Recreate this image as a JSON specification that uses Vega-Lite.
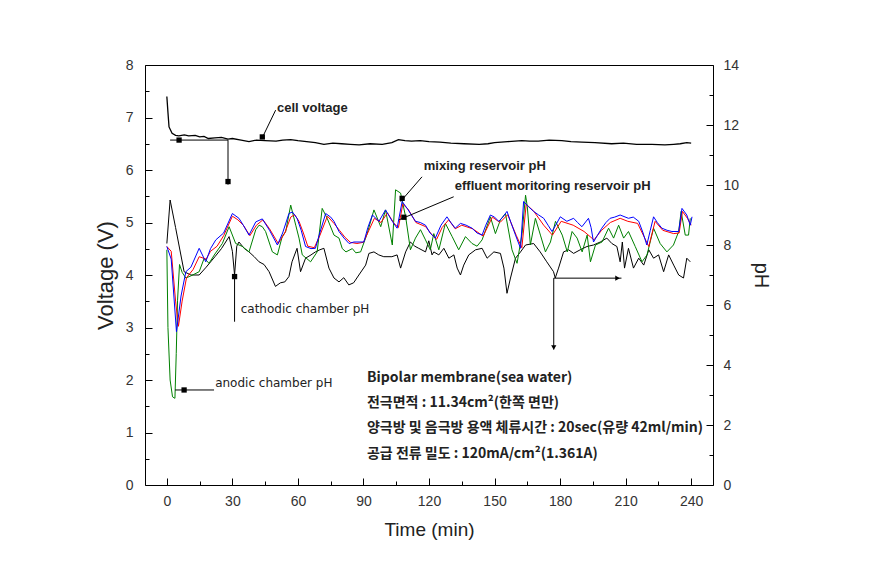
{
  "$schema": "https://vega.github.io/schema/vega-lite/v6.json",
  "width": 568,
  "height": 420,
  "autosize": {"type": "none"},
  "padding": {"left": 145, "top": 65, "right": 163, "bottom": 78},
  "background": "white",
  "config": {
    "view": {"stroke": "black", "strokeWidth": 1},
    "axis": {
      "domainColor": "black", "tickColor": "black", "domainWidth": 1, "tickWidth": 1,
      "labelFont": "Liberation Sans", "labelFontSize": 14, "labelColor": "#333333",
      "titleFont": "Liberation Sans", "titleFontWeight": "normal", "titleColor": "#222222", "grid": false
    }
  },
  "datasets": {
    "cell": [
      {"time": 0, "V": 7.4}, {"time": 0.5, "V": 7.1}, {"time": 1, "V": 6.82}, {"time": 2.4, "V": 6.7},
      {"time": 4, "V": 6.66}, {"time": 5.5, "V": 6.65}, {"time": 8, "V": 6.67}, {"time": 10, "V": 6.65},
      {"time": 13, "V": 6.66}, {"time": 15, "V": 6.63}, {"time": 17, "V": 6.64}, {"time": 19, "V": 6.6},
      {"time": 22, "V": 6.61}, {"time": 25, "V": 6.62}, {"time": 28, "V": 6.59}, {"time": 30, "V": 6.6},
      {"time": 34, "V": 6.57}, {"time": 37.6, "V": 6.54}, {"time": 41, "V": 6.57}, {"time": 45, "V": 6.56},
      {"time": 50, "V": 6.55}, {"time": 53, "V": 6.57}, {"time": 56.7, "V": 6.58}, {"time": 60, "V": 6.56},
      {"time": 64, "V": 6.54}, {"time": 68, "V": 6.52}, {"time": 71.9, "V": 6.49}, {"time": 76, "V": 6.51},
      {"time": 80, "V": 6.5}, {"time": 84, "V": 6.49}, {"time": 88, "V": 6.48}, {"time": 93, "V": 6.5},
      {"time": 98.6, "V": 6.49}, {"time": 103, "V": 6.52}, {"time": 106, "V": 6.58}, {"time": 109, "V": 6.56},
      {"time": 112, "V": 6.55}, {"time": 116, "V": 6.56}, {"time": 120, "V": 6.54}, {"time": 125, "V": 6.53},
      {"time": 130, "V": 6.51}, {"time": 136, "V": 6.5}, {"time": 143, "V": 6.49}, {"time": 147, "V": 6.5},
      {"time": 150, "V": 6.52}, {"time": 156, "V": 6.54}, {"time": 162.5, "V": 6.56}, {"time": 166, "V": 6.55},
      {"time": 170, "V": 6.55}, {"time": 175, "V": 6.57}, {"time": 180.8, "V": 6.56}, {"time": 185, "V": 6.54},
      {"time": 190, "V": 6.53}, {"time": 196, "V": 6.52}, {"time": 203.6, "V": 6.5}, {"time": 209, "V": 6.51},
      {"time": 215, "V": 6.49}, {"time": 222, "V": 6.49}, {"time": 228, "V": 6.48}, {"time": 232, "V": 6.49},
      {"time": 235, "V": 6.5}, {"time": 238, "V": 6.52}, {"time": 240, "V": 6.51}
    ],
    "ph": [
      {"series": "cathodic", "time": 0, "pH": 8.05}, {"series": "cathodic", "time": 1.5, "pH": 9.5},
      {"series": "cathodic", "time": 4, "pH": 8.58}, {"series": "cathodic", "time": 7.9, "pH": 7.11},
      {"series": "cathodic", "time": 11, "pH": 7.0}, {"series": "cathodic", "time": 14.8, "pH": 7.0},
      {"series": "cathodic", "time": 18, "pH": 7.26}, {"series": "cathodic", "time": 22, "pH": 7.61},
      {"series": "cathodic", "time": 25, "pH": 7.88}, {"series": "cathodic", "time": 28.5, "pH": 8.28},
      {"series": "cathodic", "time": 30, "pH": 7.79}, {"series": "cathodic", "time": 31, "pH": 7.0},
      {"series": "cathodic", "time": 32, "pH": 7.96}, {"series": "cathodic", "time": 33, "pH": 8.1},
      {"series": "cathodic", "time": 35.5, "pH": 7.88}, {"series": "cathodic", "time": 37.6, "pH": 7.77},
      {"series": "cathodic", "time": 40, "pH": 7.61}, {"series": "cathodic", "time": 42.2, "pH": 7.44},
      {"series": "cathodic", "time": 44.5, "pH": 7.35}, {"series": "cathodic", "time": 46.8, "pH": 7.11},
      {"series": "cathodic", "time": 49.7, "pH": 6.62}, {"series": "cathodic", "time": 52, "pH": 6.74},
      {"series": "cathodic", "time": 54, "pH": 6.77}, {"series": "cathodic", "time": 55.9, "pH": 6.95},
      {"series": "cathodic", "time": 57.3, "pH": 7.44}, {"series": "cathodic", "time": 59.6, "pH": 7.89},
      {"series": "cathodic", "time": 61.2, "pH": 7.11}, {"series": "cathodic", "time": 63.5, "pH": 7.56},
      {"series": "cathodic", "time": 66, "pH": 7.67}, {"series": "cathodic", "time": 68, "pH": 7.77},
      {"series": "cathodic", "time": 70, "pH": 7.84}, {"series": "cathodic", "time": 71.9, "pH": 7.89},
      {"series": "cathodic", "time": 74.2, "pH": 7.23}, {"series": "cathodic", "time": 76.5, "pH": 6.9},
      {"series": "cathodic", "time": 78.8, "pH": 6.77}, {"series": "cathodic", "time": 81, "pH": 6.91},
      {"series": "cathodic", "time": 83.3, "pH": 6.67}, {"series": "cathodic", "time": 85.5, "pH": 6.74},
      {"series": "cathodic", "time": 87.9, "pH": 7.0}, {"series": "cathodic", "time": 91, "pH": 7.33},
      {"series": "cathodic", "time": 92.5, "pH": 7.72}, {"series": "cathodic", "time": 94.8, "pH": 7.77},
      {"series": "cathodic", "time": 97, "pH": 7.67}, {"series": "cathodic", "time": 99.3, "pH": 7.61},
      {"series": "cathodic", "time": 103, "pH": 7.61}, {"series": "cathodic", "time": 105.4, "pH": 7.67},
      {"series": "cathodic", "time": 107, "pH": 7.23}, {"series": "cathodic", "time": 109.3, "pH": 7.77},
      {"series": "cathodic", "time": 111.5, "pH": 8.1}, {"series": "cathodic", "time": 113.5, "pH": 7.96},
      {"series": "cathodic", "time": 115.3, "pH": 7.89}, {"series": "cathodic", "time": 118.4, "pH": 7.77},
      {"series": "cathodic", "time": 119.9, "pH": 8.14}, {"series": "cathodic", "time": 121.4, "pH": 7.67},
      {"series": "cathodic", "time": 122.2, "pH": 7.77}, {"series": "cathodic", "time": 124.5, "pH": 7.67},
      {"series": "cathodic", "time": 126.8, "pH": 7.89}, {"series": "cathodic", "time": 129.1, "pH": 7.56},
      {"series": "cathodic", "time": 131.4, "pH": 7.67}, {"series": "cathodic", "time": 132.9, "pH": 7.23},
      {"series": "cathodic", "time": 134.4, "pH": 7.0}, {"series": "cathodic", "time": 135.9, "pH": 7.33},
      {"series": "cathodic", "time": 138.2, "pH": 7.67}, {"series": "cathodic", "time": 141.3, "pH": 7.84},
      {"series": "cathodic", "time": 144.3, "pH": 7.89}, {"series": "cathodic", "time": 146.6, "pH": 7.56},
      {"series": "cathodic", "time": 149.7, "pH": 7.77}, {"series": "cathodic", "time": 152.7, "pH": 7.72},
      {"series": "cathodic", "time": 154.3, "pH": 7.23}, {"series": "cathodic", "time": 155.7, "pH": 6.39},
      {"series": "cathodic", "time": 157.3, "pH": 6.9}, {"series": "cathodic", "time": 159.6, "pH": 7.56},
      {"series": "cathodic", "time": 161.9, "pH": 7.77}, {"series": "cathodic", "time": 164.2, "pH": 8.0},
      {"series": "cathodic", "time": 167.9, "pH": 8.05}, {"series": "cathodic", "time": 170.9, "pH": 7.77},
      {"series": "cathodic", "time": 173.9, "pH": 7.44}, {"series": "cathodic", "time": 177, "pH": 7.11},
      {"series": "cathodic", "time": 177.8, "pH": 6.9}, {"series": "cathodic", "time": 179.3, "pH": 7.23},
      {"series": "cathodic", "time": 181.6, "pH": 7.77}, {"series": "cathodic", "time": 183.9, "pH": 7.84},
      {"series": "cathodic", "time": 186.2, "pH": 7.72}, {"series": "cathodic", "time": 189.2, "pH": 7.84},
      {"series": "cathodic", "time": 192.3, "pH": 7.95}, {"series": "cathodic", "time": 195.3, "pH": 8.0},
      {"series": "cathodic", "time": 198.4, "pH": 8.1}, {"series": "cathodic", "time": 201.4, "pH": 8.23},
      {"series": "cathodic", "time": 203.7, "pH": 8.05}, {"series": "cathodic", "time": 206, "pH": 7.95},
      {"series": "cathodic", "time": 207.5, "pH": 7.44}, {"series": "cathodic", "time": 208.5, "pH": 8.1},
      {"series": "cathodic", "time": 209.5, "pH": 7.23}, {"series": "cathodic", "time": 211.3, "pH": 7.89},
      {"series": "cathodic", "time": 213.6, "pH": 7.23}, {"series": "cathodic", "time": 216, "pH": 7.56},
      {"series": "cathodic", "time": 218.3, "pH": 7.33}, {"series": "cathodic", "time": 220.6, "pH": 7.84},
      {"series": "cathodic", "time": 222.8, "pH": 7.56}, {"series": "cathodic", "time": 225.1, "pH": 7.67},
      {"series": "cathodic", "time": 227.4, "pH": 7.11}, {"series": "cathodic", "time": 229.7, "pH": 7.67},
      {"series": "cathodic", "time": 232, "pH": 7.33}, {"series": "cathodic", "time": 234.3, "pH": 7.0},
      {"series": "cathodic", "time": 236.5, "pH": 6.9}, {"series": "cathodic", "time": 238, "pH": 7.56},
      {"series": "cathodic", "time": 239.6, "pH": 7.44},

      {"series": "anodic", "time": 0, "pH": 7.84}, {"series": "anodic", "time": 0.5, "pH": 5.25},
      {"series": "anodic", "time": 1.5, "pH": 3.5}, {"series": "anodic", "time": 2.6, "pH": 2.94},
      {"series": "anodic", "time": 3.7, "pH": 2.89}, {"series": "anodic", "time": 4.3, "pH": 4.38},
      {"series": "anodic", "time": 4.9, "pH": 6.16}, {"series": "anodic", "time": 5.8, "pH": 7.35},
      {"series": "anodic", "time": 7, "pH": 7.09}, {"series": "anodic", "time": 8.7, "pH": 6.9},
      {"series": "anodic", "time": 11, "pH": 6.97}, {"series": "anodic", "time": 14.8, "pH": 7.11},
      {"series": "anodic", "time": 17.1, "pH": 7.56}, {"series": "anodic", "time": 19.3, "pH": 7.39},
      {"series": "anodic", "time": 22, "pH": 7.7}, {"series": "anodic", "time": 25.4, "pH": 8.05},
      {"series": "anodic", "time": 28.5, "pH": 8.61}, {"series": "anodic", "time": 31.5, "pH": 8.05},
      {"series": "anodic", "time": 34.6, "pH": 7.95}, {"series": "anodic", "time": 37.6, "pH": 7.77},
      {"series": "anodic", "time": 40.7, "pH": 8.51}, {"series": "anodic", "time": 42.2, "pH": 8.66},
      {"series": "anodic", "time": 43.7, "pH": 8.61}, {"series": "anodic", "time": 45.2, "pH": 8.45},
      {"series": "anodic", "time": 48.3, "pH": 7.77}, {"series": "anodic", "time": 50.6, "pH": 7.67},
      {"series": "anodic", "time": 52.8, "pH": 8.28}, {"series": "anodic", "time": 54.4, "pH": 8.45},
      {"series": "anodic", "time": 56.7, "pH": 9.33}, {"series": "anodic", "time": 59, "pH": 8.66},
      {"series": "anodic", "time": 60.5, "pH": 8.23}, {"series": "anodic", "time": 62, "pH": 7.67},
      {"series": "anodic", "time": 65.8, "pH": 7.44}, {"series": "anodic", "time": 68.8, "pH": 7.77},
      {"series": "anodic", "time": 71.1, "pH": 9.22}, {"series": "anodic", "time": 73.4, "pH": 8.89},
      {"series": "anodic", "time": 76.5, "pH": 8.33}, {"series": "anodic", "time": 78.8, "pH": 8.23},
      {"series": "anodic", "time": 80.3, "pH": 7.88}, {"series": "anodic", "time": 82, "pH": 7.77},
      {"series": "anodic", "time": 84.9, "pH": 7.88}, {"series": "anodic", "time": 86.5, "pH": 7.74},
      {"series": "anodic", "time": 88.7, "pH": 7.77}, {"series": "anodic", "time": 91.7, "pH": 8.38},
      {"series": "anodic", "time": 94.8, "pH": 9.17}, {"series": "anodic", "time": 97.9, "pH": 8.61},
      {"series": "anodic", "time": 100.1, "pH": 9.17}, {"series": "anodic", "time": 103.2, "pH": 8.0},
      {"series": "anodic", "time": 104.7, "pH": 9.84}, {"series": "anodic", "time": 107, "pH": 9.73},
      {"series": "anodic", "time": 109.3, "pH": 8.94}, {"series": "anodic", "time": 111.5, "pH": 7.84},
      {"series": "anodic", "time": 113.8, "pH": 8.23}, {"series": "anodic", "time": 116.1, "pH": 8.51},
      {"series": "anodic", "time": 118.4, "pH": 8.17}, {"series": "anodic", "time": 120.6, "pH": 7.84},
      {"series": "anodic", "time": 122.2, "pH": 8.38}, {"series": "anodic", "time": 124.5, "pH": 7.84},
      {"series": "anodic", "time": 127.5, "pH": 8.72}, {"series": "anodic", "time": 130.6, "pH": 8.28},
      {"series": "anodic", "time": 133.6, "pH": 7.84}, {"series": "anodic", "time": 136.7, "pH": 8.28},
      {"series": "anodic", "time": 139.7, "pH": 8.05}, {"series": "anodic", "time": 142, "pH": 7.96},
      {"series": "anodic", "time": 144.3, "pH": 8.17}, {"series": "anodic", "time": 148.1, "pH": 8.94},
      {"series": "anodic", "time": 150.4, "pH": 8.38}, {"series": "anodic", "time": 152.7, "pH": 8.84},
      {"series": "anodic", "time": 155, "pH": 9.05}, {"series": "anodic", "time": 158, "pH": 7.84},
      {"series": "anodic", "time": 160.3, "pH": 7.39}, {"series": "anodic", "time": 162.6, "pH": 8.38},
      {"series": "anodic", "time": 164.2, "pH": 9.66}, {"series": "anodic", "time": 165, "pH": 9.28},
      {"series": "anodic", "time": 166.4, "pH": 8.0}, {"series": "anodic", "time": 168.7, "pH": 8.89},
      {"series": "anodic", "time": 171, "pH": 8.33}, {"series": "anodic", "time": 173.3, "pH": 7.77},
      {"series": "anodic", "time": 175.6, "pH": 8.1}, {"series": "anodic", "time": 177.9, "pH": 8.79},
      {"series": "anodic", "time": 181, "pH": 8.33}, {"series": "anodic", "time": 183.3, "pH": 7.77},
      {"series": "anodic", "time": 185.5, "pH": 8.45}, {"series": "anodic", "time": 187.8, "pH": 8.23},
      {"series": "anodic", "time": 190.1, "pH": 7.77}, {"series": "anodic", "time": 192.4, "pH": 8.33},
      {"series": "anodic", "time": 193.9, "pH": 7.44}, {"series": "anodic", "time": 196.2, "pH": 8.0},
      {"series": "anodic", "time": 199.2, "pH": 8.1}, {"series": "anodic", "time": 202.2, "pH": 8.56},
      {"series": "anodic", "time": 204.5, "pH": 8.23}, {"series": "anodic", "time": 206.8, "pH": 8.66},
      {"series": "anodic", "time": 209.1, "pH": 8.23}, {"series": "anodic", "time": 211.3, "pH": 8.45},
      {"series": "anodic", "time": 214.4, "pH": 7.95}, {"series": "anodic", "time": 217.5, "pH": 7.44},
      {"series": "anodic", "time": 219.8, "pH": 7.67}, {"series": "anodic", "time": 222.8, "pH": 8.56},
      {"series": "anodic", "time": 225.8, "pH": 8.05}, {"series": "anodic", "time": 228.9, "pH": 7.77},
      {"series": "anodic", "time": 231.9, "pH": 8.0}, {"series": "anodic", "time": 234.3, "pH": 8.45},
      {"series": "anodic", "time": 235.4, "pH": 9.12}, {"series": "anodic", "time": 237.3, "pH": 8.33},
      {"series": "anodic", "time": 238.8, "pH": 8.33}, {"series": "anodic", "time": 239.6, "pH": 8.89},

      {"series": "mixing", "time": 0, "pH": 7.95}, {"series": "mixing", "time": 2, "pH": 7.79},
      {"series": "mixing", "time": 4, "pH": 6.13}, {"series": "mixing", "time": 5.3, "pH": 5.29},
      {"series": "mixing", "time": 7, "pH": 6.13}, {"series": "mixing", "time": 9, "pH": 6.91},
      {"series": "mixing", "time": 12, "pH": 7.18}, {"series": "mixing", "time": 14.8, "pH": 7.61},
      {"series": "mixing", "time": 18, "pH": 7.53}, {"series": "mixing", "time": 20, "pH": 7.79},
      {"series": "mixing", "time": 23, "pH": 7.96}, {"series": "mixing", "time": 26, "pH": 8.31},
      {"series": "mixing", "time": 30, "pH": 8.96}, {"series": "mixing", "time": 32.5, "pH": 8.84},
      {"series": "mixing", "time": 35, "pH": 8.66}, {"series": "mixing", "time": 38, "pH": 8.31},
      {"series": "mixing", "time": 41, "pH": 8.66}, {"series": "mixing", "time": 44, "pH": 8.84},
      {"series": "mixing", "time": 47, "pH": 8.54}, {"series": "mixing", "time": 51, "pH": 8.05},
      {"series": "mixing", "time": 54, "pH": 8.4}, {"series": "mixing", "time": 56.7, "pH": 8.93},
      {"series": "mixing", "time": 58.5, "pH": 9.01}, {"series": "mixing", "time": 60.5, "pH": 8.79},
      {"series": "mixing", "time": 62.5, "pH": 8.4}, {"series": "mixing", "time": 64.5, "pH": 7.96},
      {"series": "mixing", "time": 67.5, "pH": 7.91}, {"series": "mixing", "time": 70, "pH": 8.31},
      {"series": "mixing", "time": 73.5, "pH": 8.96}, {"series": "mixing", "time": 76.5, "pH": 8.72},
      {"series": "mixing", "time": 79, "pH": 8.49}, {"series": "mixing", "time": 81.5, "pH": 8.26},
      {"series": "mixing", "time": 84, "pH": 8.09}, {"series": "mixing", "time": 87, "pH": 8.05},
      {"series": "mixing", "time": 90, "pH": 8.09}, {"series": "mixing", "time": 92.5, "pH": 8.49},
      {"series": "mixing", "time": 95, "pH": 8.89}, {"series": "mixing", "time": 98, "pH": 8.75},
      {"series": "mixing", "time": 101, "pH": 9.07}, {"series": "mixing", "time": 104, "pH": 8.72},
      {"series": "mixing", "time": 106, "pH": 8.58}, {"series": "mixing", "time": 108, "pH": 9.36},
      {"series": "mixing", "time": 110.5, "pH": 9.19}, {"series": "mixing", "time": 114, "pH": 8.75},
      {"series": "mixing", "time": 118.5, "pH": 8.61}, {"series": "mixing", "time": 121, "pH": 8.37},
      {"series": "mixing", "time": 123.5, "pH": 8.19}, {"series": "mixing", "time": 126, "pH": 8.58},
      {"series": "mixing", "time": 129, "pH": 8.84}, {"series": "mixing", "time": 132, "pH": 8.54},
      {"series": "mixing", "time": 135, "pH": 8.66}, {"series": "mixing", "time": 140, "pH": 8.54},
      {"series": "mixing", "time": 144.8, "pH": 8.3}, {"series": "mixing", "time": 149, "pH": 8.93},
      {"series": "mixing", "time": 152.5, "pH": 8.75}, {"series": "mixing", "time": 156, "pH": 9.01},
      {"series": "mixing", "time": 160, "pH": 8.31}, {"series": "mixing", "time": 162.5, "pH": 7.91},
      {"series": "mixing", "time": 164.5, "pH": 9.36}, {"series": "mixing", "time": 168, "pH": 9.12},
      {"series": "mixing", "time": 172.5, "pH": 8.66}, {"series": "mixing", "time": 176.5, "pH": 8.33},
      {"series": "mixing", "time": 180.5, "pH": 8.79}, {"series": "mixing", "time": 186, "pH": 8.66},
      {"series": "mixing", "time": 191, "pH": 8.45}, {"series": "mixing", "time": 195.5, "pH": 8.17},
      {"series": "mixing", "time": 199, "pH": 8.49}, {"series": "mixing", "time": 203, "pH": 8.75},
      {"series": "mixing", "time": 207.5, "pH": 8.89}, {"series": "mixing", "time": 211, "pH": 8.79},
      {"series": "mixing", "time": 215.5, "pH": 8.72}, {"series": "mixing", "time": 220.6, "pH": 7.95},
      {"series": "mixing", "time": 223.5, "pH": 8.79}, {"series": "mixing", "time": 227, "pH": 8.49},
      {"series": "mixing", "time": 232, "pH": 8.38}, {"series": "mixing", "time": 234.5, "pH": 8.4},
      {"series": "mixing", "time": 236, "pH": 9.12}, {"series": "mixing", "time": 238.3, "pH": 8.89},
      {"series": "mixing", "time": 240, "pH": 8.66},

      {"series": "effluent", "time": 0, "pH": 7.95}, {"series": "effluent", "time": 2, "pH": 7.53},
      {"series": "effluent", "time": 4.4, "pH": 5.11}, {"series": "effluent", "time": 6.5, "pH": 6.3},
      {"series": "effluent", "time": 8.7, "pH": 7.11}, {"series": "effluent", "time": 11, "pH": 7.26},
      {"series": "effluent", "time": 14.8, "pH": 7.89}, {"series": "effluent", "time": 17.8, "pH": 7.44},
      {"series": "effluent", "time": 20, "pH": 7.88}, {"series": "effluent", "time": 22.4, "pH": 8.17},
      {"series": "effluent", "time": 26, "pH": 8.4}, {"series": "effluent", "time": 30, "pH": 9.05},
      {"series": "effluent", "time": 33, "pH": 8.89}, {"series": "effluent", "time": 35, "pH": 8.66},
      {"series": "effluent", "time": 37.6, "pH": 8.33}, {"series": "effluent", "time": 40.7, "pH": 8.77},
      {"series": "effluent", "time": 43.7, "pH": 8.87}, {"series": "effluent", "time": 47, "pH": 8.49},
      {"series": "effluent", "time": 50.6, "pH": 8.0}, {"series": "effluent", "time": 53, "pH": 8.4},
      {"series": "effluent", "time": 55.9, "pH": 9.05}, {"series": "effluent", "time": 57.5, "pH": 9.1},
      {"series": "effluent", "time": 59.6, "pH": 8.89}, {"series": "effluent", "time": 61.5, "pH": 8.49},
      {"series": "effluent", "time": 63.5, "pH": 7.95}, {"series": "effluent", "time": 66, "pH": 7.88},
      {"series": "effluent", "time": 68, "pH": 7.89}, {"series": "effluent", "time": 70, "pH": 8.4},
      {"series": "effluent", "time": 72.7, "pH": 9.05}, {"series": "effluent", "time": 75, "pH": 8.93},
      {"series": "effluent", "time": 76.5, "pH": 8.79}, {"series": "effluent", "time": 78.8, "pH": 8.45},
      {"series": "effluent", "time": 81.1, "pH": 8.23}, {"series": "effluent", "time": 83.4, "pH": 8.05},
      {"series": "effluent", "time": 85.6, "pH": 8.1}, {"series": "effluent", "time": 88, "pH": 8.1},
      {"series": "effluent", "time": 90.2, "pH": 8.1}, {"series": "effluent", "time": 92, "pH": 8.58},
      {"series": "effluent", "time": 94.1, "pH": 9.0}, {"series": "effluent", "time": 97.1, "pH": 8.79},
      {"series": "effluent", "time": 100.1, "pH": 9.17}, {"series": "effluent", "time": 103.2, "pH": 8.79},
      {"series": "effluent", "time": 105.4, "pH": 8.56}, {"series": "effluent", "time": 107.7, "pH": 9.45},
      {"series": "effluent", "time": 110, "pH": 9.22}, {"series": "effluent", "time": 113.8, "pH": 8.79},
      {"series": "effluent", "time": 116, "pH": 8.75}, {"series": "effluent", "time": 118.4, "pH": 8.66},
      {"series": "effluent", "time": 120.5, "pH": 8.4}, {"series": "effluent", "time": 122.9, "pH": 8.23},
      {"series": "effluent", "time": 125.5, "pH": 8.66}, {"series": "effluent", "time": 128.2, "pH": 8.94},
      {"series": "effluent", "time": 130, "pH": 8.75}, {"series": "effluent", "time": 132, "pH": 8.56},
      {"series": "effluent", "time": 134.4, "pH": 8.72}, {"series": "effluent", "time": 137, "pH": 8.66},
      {"series": "effluent", "time": 139.7, "pH": 8.56}, {"series": "effluent", "time": 142, "pH": 8.4},
      {"series": "effluent", "time": 144.3, "pH": 8.33}, {"series": "effluent", "time": 146, "pH": 8.66},
      {"series": "effluent", "time": 148.1, "pH": 9.0}, {"series": "effluent", "time": 150, "pH": 8.93},
      {"series": "effluent", "time": 151.9, "pH": 8.79}, {"series": "effluent", "time": 153.8, "pH": 8.93},
      {"series": "effluent", "time": 155.7, "pH": 9.12}, {"series": "effluent", "time": 157.5, "pH": 8.75},
      {"series": "effluent", "time": 159.6, "pH": 8.33}, {"series": "effluent", "time": 161.9, "pH": 7.89},
      {"series": "effluent", "time": 163.3, "pH": 9.45}, {"series": "effluent", "time": 165.5, "pH": 9.28},
      {"series": "effluent", "time": 167.9, "pH": 9.12}, {"series": "effluent", "time": 170, "pH": 9.01},
      {"series": "effluent", "time": 172.5, "pH": 8.89}, {"series": "effluent", "time": 174.5, "pH": 8.66},
      {"series": "effluent", "time": 176.3, "pH": 8.45}, {"series": "effluent", "time": 178, "pH": 8.66},
      {"series": "effluent", "time": 180.1, "pH": 8.94}, {"series": "effluent", "time": 183.1, "pH": 8.79},
      {"series": "effluent", "time": 186.2, "pH": 8.89}, {"series": "effluent", "time": 188, "pH": 8.75},
      {"series": "effluent", "time": 190, "pH": 8.61}, {"series": "effluent", "time": 193, "pH": 8.89},
      {"series": "effluent", "time": 194.2, "pH": 8.58}, {"series": "effluent", "time": 195.3, "pH": 8.1},
      {"series": "effluent", "time": 197, "pH": 8.31}, {"series": "effluent", "time": 199.1, "pH": 8.56},
      {"series": "effluent", "time": 201, "pH": 8.75}, {"series": "effluent", "time": 202.9, "pH": 8.89},
      {"series": "effluent", "time": 205, "pH": 8.93}, {"series": "effluent", "time": 207.5, "pH": 9.0},
      {"series": "effluent", "time": 211.3, "pH": 8.89}, {"series": "effluent", "time": 213.5, "pH": 8.93},
      {"series": "effluent", "time": 216, "pH": 8.79}, {"series": "effluent", "time": 218, "pH": 8.4},
      {"series": "effluent", "time": 219.7, "pH": 8.0}, {"series": "effluent", "time": 221.3, "pH": 8.49},
      {"series": "effluent", "time": 222.8, "pH": 8.94}, {"series": "effluent", "time": 224.5, "pH": 8.75},
      {"series": "effluent", "time": 226.6, "pH": 8.56}, {"series": "effluent", "time": 229, "pH": 8.49},
      {"series": "effluent", "time": 231.2, "pH": 8.45}, {"series": "effluent", "time": 234.3, "pH": 8.45},
      {"series": "effluent", "time": 235.8, "pH": 9.22}, {"series": "effluent", "time": 237, "pH": 9.1},
      {"series": "effluent", "time": 238, "pH": 9.0}, {"series": "effluent", "time": 239.6, "pH": 8.66},
      {"series": "effluent", "time": 240.4, "pH": 8.94}
    ],
    "arrows": [
      {"time": 49.8, "V": 7.14, "time2": 43.5, "V2": 6.6},
      {"time": 28, "V": 6.57, "time2": 1.5, "V2": 6.57},
      {"time": 28, "V": 6.57, "time2": 28, "V2": 5.72},
      {"time": 116.8, "V": 5.87, "time2": 107, "V2": 5.4},
      {"time": 131.3, "V": 5.49, "time2": 106.2, "V2": 5.05},
      {"time": 31, "V": 3.11, "time2": 31, "V2": 3.97},
      {"time": 21.6, "V": 1.81, "time2": 3.8, "V2": 1.81},
      {"time": 177.1, "V": 3.94, "time2": 177.1, "V2": 2.58},
      {"time": 177.1, "V": 3.94, "time2": 208.1, "V2": 3.94}
    ],
    "heads": [
      {"time": 43.7, "V": 6.63, "shape": "square"},
      {"time": 5.6, "V": 6.57, "shape": "square"},
      {"time": 28, "V": 5.78, "shape": "square"},
      {"time": 107.7, "V": 5.46, "shape": "square"},
      {"time": 108.5, "V": 5.1, "shape": "square"},
      {"time": 31, "V": 3.97, "shape": "square"},
      {"time": 7.9, "V": 1.81, "shape": "square"},
      {"time": 177.1, "V": 2.62, "shape": "triangle-down"},
      {"time": 206.3, "V": 3.94, "shape": "triangle-right"}
    ],
    "en": [
      {"time": 50.4, "V": 7.18, "text": "cell voltage"},
      {"time": 117.6, "V": 6.08, "text": "mixing reservoir pH"},
      {"time": 131.8, "V": 5.69, "text": "effluent moritoring reservoir pH"}
    ],
    "ch": [
      {"time": 33.8, "V": 3.35, "text": "cathodic chamber pH"},
      {"time": 22.1, "V": 1.94, "text": "anodic chamber pH"}
    ],
    "kr": [
      {"time": 91.6, "V": 2.04, "text": "Bipolar membrane(sea water)"},
      {"time": 91.6, "V": 1.56, "text": "전극면적 : 11.34cm²(한쪽 면만)"},
      {"time": 91.6, "V": 1.09, "text": "양극방 및 음극방 용액 체류시간 : 20sec(유량 42ml/min)"},
      {"time": 91.6, "V": 0.59, "text": "공급 전류 밀도 : 120mA/cm²(1.361A)"}
    ]
  },
  "layer": [
    {
      "data": {"name": "ph"},
      "mark": {"type": "line", "strokeWidth": 1},
      "encoding": {
        "x": {"field": "time", "type": "quantitative", "scale": {"domain": [-10, 250], "nice": false, "zero": false}, "axis": null},
        "y": {"field": "pH", "type": "quantitative", "scale": {"domain": [0, 14], "nice": false, "zero": false},
              "axis": {"orient": "right", "values": [0, 2, 4, 6, 8, 10, 12, 14], "offset": -7, "tickSize": 7, "domain": false, "labelPadding": 10,
                       "title": "pH", "titleFontSize": 20, "titlePadding": 12}},
        "color": {"field": "series", "type": "nominal",
                  "scale": {"domain": ["cathodic", "anodic", "mixing", "effluent"], "range": ["#000000", "#008000", "#ff0000", "#0000ff"]},
                  "legend": null}
      }
    },
    {
      "data": {"name": "ph"},
      "mark": {"type": "line", "opacity": 0},
      "encoding": {
        "x": {"field": "time", "type": "quantitative", "scale": {"domain": [-10, 250], "nice": false, "zero": false}, "axis": null},
        "y": {"field": "pH", "type": "quantitative", "scale": {"domain": [0, 14], "nice": false, "zero": false},
              "axis": {"orient": "right", "values": [1, 3, 5, 7, 9, 11, 13], "offset": -4, "tickSize": 4, "labels": false, "domain": false, "title": null}},
        "detail": {"field": "series", "type": "nominal"}
      }
    },
    {
      "data": {"name": "cell"},
      "mark": {"type": "line", "color": "black", "strokeWidth": 1.3},
      "encoding": {
        "x": {"field": "time", "type": "quantitative", "scale": {"domain": [-10, 250], "nice": false, "zero": false},
              "axis": {"orient": "bottom", "values": [0, 30, 60, 90, 120, 150, 180, 210, 240], "offset": -7, "tickSize": 7, "domain": false, "labelPadding": 9,
                       "title": "Time (min)", "titleFontSize": 19, "titlePadding": 12}},
        "y": {"field": "V", "type": "quantitative", "scale": {"domain": [0, 8], "nice": false, "zero": false},
              "axis": {"orient": "left", "values": [0, 1, 2, 3, 4, 5, 6, 7, 8], "offset": -7, "tickSize": 7, "domain": false, "labelPadding": 12,
                       "title": "Voltage (V)", "titleFontSize": 22, "titlePadding": 8}}
      }
    },
    {
      "data": {"name": "arrows"},
      "mark": {"type": "rule", "color": "black", "strokeWidth": 1},
      "encoding": {
        "x": {"field": "time", "type": "quantitative", "scale": {"domain": [-10, 250], "nice": false, "zero": false},
              "axis": {"orient": "bottom", "values": [15, 45, 75, 105, 135, 165, 195, 225], "offset": -4, "tickSize": 4, "labels": false, "domain": false, "title": null}},
        "y": {"field": "V", "type": "quantitative", "scale": {"domain": [0, 8], "nice": false, "zero": false},
              "axis": {"orient": "left", "values": [0.5, 1.5, 2.5, 3.5, 4.5, 5.5, 6.5, 7.5], "offset": -4, "tickSize": 4, "labels": false, "domain": false, "title": null}},
        "x2": {"field": "time2"},
        "y2": {"field": "V2"}
      }
    },
    {
      "data": {"name": "heads"},
      "mark": {"type": "point", "filled": true, "color": "black", "opacity": 1, "size": 28},
      "encoding": {
        "x": {"field": "time", "type": "quantitative", "scale": {"domain": [-10, 250], "nice": false, "zero": false}, "axis": null},
        "y": {"field": "V", "type": "quantitative", "scale": {"domain": [0, 8], "nice": false, "zero": false}, "axis": null},
        "shape": {"field": "shape", "type": "nominal", "scale": null}
      }
    },
    {
      "data": {"name": "en"},
      "mark": {"type": "text", "align": "left", "baseline": "middle", "font": "Liberation Sans", "fontSize": 13, "fontWeight": "bold", "color": "#222222"},
      "encoding": {
        "x": {"field": "time", "type": "quantitative", "scale": {"domain": [-10, 250], "nice": false, "zero": false}, "axis": null},
        "y": {"field": "V", "type": "quantitative", "scale": {"domain": [0, 8], "nice": false, "zero": false}, "axis": null},
        "text": {"field": "text"}
      }
    },
    {
      "data": {"name": "ch"},
      "mark": {"type": "text", "align": "left", "baseline": "middle", "font": "DejaVu Sans", "fontSize": 12, "color": "#222222"},
      "encoding": {
        "x": {"field": "time", "type": "quantitative", "scale": {"domain": [-10, 250], "nice": false, "zero": false}, "axis": null},
        "y": {"field": "V", "type": "quantitative", "scale": {"domain": [0, 8], "nice": false, "zero": false}, "axis": null},
        "text": {"field": "text"}
      }
    },
    {
      "data": {"name": "kr"},
      "mark": {"type": "text", "align": "left", "baseline": "middle", "font": "Noto Sans CJK KR", "fontSize": 14, "fontWeight": "bold", "color": "#222222"},
      "encoding": {
        "x": {"field": "time", "type": "quantitative", "scale": {"domain": [-10, 250], "nice": false, "zero": false}, "axis": null},
        "y": {"field": "V", "type": "quantitative", "scale": {"domain": [0, 8], "nice": false, "zero": false}, "axis": null},
        "text": {"field": "text"}
      }
    }
  ],
  "resolve": {"scale": {"y": "independent"}, "axis": {"x": "independent", "y": "independent"}}
}
